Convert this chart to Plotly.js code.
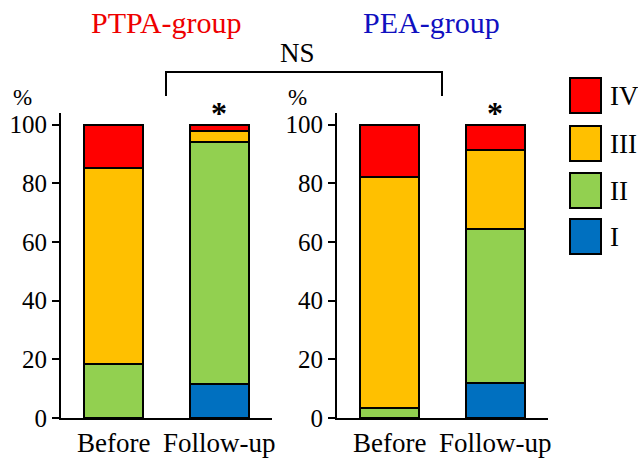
<!DOCTYPE html>
<html>
<head>
<meta charset="utf-8">
<script src="https://cdn.plot.ly/plotly-3.0.1.min.js"></script>
<style>html,body{margin:0;padding:0;background:#fff}#chart{width:638px;height:461px}</style>
</head>
<body>
<div id="chart"></div>
<script>
// ---- data ----
const categories = ["Before", "Follow-up"];
const classLabels = ["I", "II", "III", "IV"];
const classColors = ["#0070C0", "#92D050", "#FFC000", "#FF0000"];
// PTPA-group (% per class, Before / Follow-up)
const ptpaI   = [0, 11.5];
const ptpaII  = [18.5, 82.7];
const ptpaIII = [66.8, 3.8];
const ptpaIV  = [14.7, 2.0];
// PEA-group
const peaI   = [0, 12.0];
const peaII  = [3.5, 52.5];
const peaIII = [78.7, 27.0];
const peaIV  = [17.8, 8.5];
const yTicks = [0, 20, 40, 60, 80, 100];

const W = 638, H = 461;
const px = x => x / W;
const py = y => 1 - y / H;
const serif = "Liberation Serif";

const ptpa = [ptpaI, ptpaII, ptpaIII, ptpaIV];
const pea = [peaI, peaII, peaIII, peaIV];
const traces = [];
[[ptpa, 'x', 'y'], [pea, 'x2', 'y2']].forEach(([grp, xa, ya]) => {
  grp.forEach((vals, i) => {
    traces.push({
      type: 'bar', x: categories, y: vals, name: classLabels[i],
      xaxis: xa, yaxis: ya, width: 0.56,
      marker: {color: classColors[i], line: {color: '#000', width: 2}},
      showlegend: false, hoverinfo: 'skip'
    });
  });
});

const xBase = {
  range: [-0.5, 1.5], showline: true, linecolor: '#000', linewidth: 2,
  ticks: '', showgrid: false, zeroline: false,
  tickfont: {family: serif, size: 27, color: '#000'}, fixedrange: true
};
const yBase = {
  range: [0, 104], tickvals: yTicks, showline: true, linecolor: '#000', linewidth: 2,
  ticks: 'outside', ticklen: 7, tickwidth: 2, tickcolor: '#000',
  showgrid: false, zeroline: false,
  tickfont: {family: serif, size: 25, color: '#000'}, fixedrange: true
};
const yDom = [py(418), py(113)];

const shapes = [
  // NS bracket
  {type: 'path', xref: 'paper', yref: 'paper',
   path: `M ${px(166)} ${py(96)} L ${px(166)} ${py(72)} L ${px(442)} ${py(72)} L ${px(442)} ${py(96)}`,
   line: {color: '#000', width: 2}}
];
const legendTops = [219, 173, 126, 78];
classLabels.forEach((lab, i) => {
  shapes.push({type: 'rect', xref: 'paper', yref: 'paper',
    x0: px(570), x1: px(601), y0: py(legendTops[i] + 35), y1: py(legendTops[i]),
    fillcolor: classColors[i], line: {color: '#000', width: 2}});
});

const annotations = [
  {text: 'PTPA-group', x: px(166), y: py(22), font: {family: serif, size: 30, color: '#EE0000'}},
  {text: 'PEA-group', x: px(431), y: py(22), font: {family: serif, size: 30, color: '#1010C0'}},
  {text: 'NS', x: px(297), y: py(53), font: {family: serif, size: 27, color: '#000'}},
  {text: '%', x: px(22), y: py(97), font: {family: serif, size: 23, color: '#000'}},
  {text: '%', x: px(297), y: py(97), font: {family: serif, size: 23, color: '#000'}},
  {text: '<b>*</b>', x: px(219), y: py(113), font: {family: serif, size: 32, color: '#000'}},
  {text: '<b>*</b>', x: px(495), y: py(113), font: {family: serif, size: 32, color: '#000'}}
].map(a => Object.assign({xref: 'paper', yref: 'paper', showarrow: false, xanchor: 'center', yanchor: 'middle'}, a));
classLabels.forEach((lab, i) => {
  annotations.push({text: lab, xref: 'paper', yref: 'paper', showarrow: false,
    x: px(608), y: py(legendTops[i] + 18), xanchor: 'left', yanchor: 'middle',
    font: {family: serif, size: 27, color: '#000'}});
});

const layout = {
  width: W, height: H, margin: {l: 0, r: 0, t: 0, b: 0},
  font: {family: serif, color: '#000'},
  paper_bgcolor: '#fff', plot_bgcolor: 'rgba(0,0,0,0)',
  barmode: 'stack', showlegend: false,
  xaxis: Object.assign({}, xBase, {domain: [px(61), px(272)], anchor: 'y'}),
  yaxis: Object.assign({}, yBase, {domain: yDom, anchor: 'x'}),
  xaxis2: Object.assign({}, xBase, {domain: [px(337), px(548)], anchor: 'y2'}),
  yaxis2: Object.assign({}, yBase, {domain: yDom, anchor: 'x2'}),
  shapes: shapes, annotations: annotations
};
Plotly.newPlot('chart', traces, layout, {displayModeBar: false, staticPlot: true});
</script>
</body>
</html>
